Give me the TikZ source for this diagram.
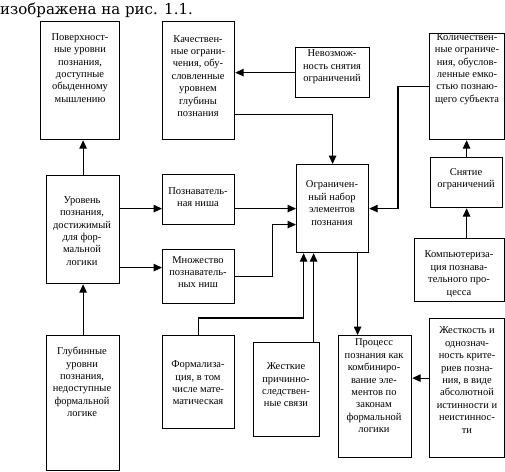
\documentclass[tikz,border=0pt]{standalone}
\usepackage{fontspec}
\setmainfont{Liberation Serif}
\newfontfamily\headfont{DejaVu Serif}
\usetikzlibrary{arrows.meta}

\begin{document}
\begin{tikzpicture}[
  x=1pt,y=-1pt,
  >={Triangle[length=8.5pt,width=7.5pt]},
  box/.style 2 args={
  	draw,
  	line width=1.2pt,
  	anchor=north west,
  	minimum width=#1,
  	minimum height=#2,
  	inner sep=0pt
  },
  txt/.style={
  	font=\fontsize{10.5}{12.4}\selectfont,
  	align=center,
  	inner sep=0pt
  },
  link/.style={
  	->,
  	line width=1.2pt
  }
  ]
  \useasboundingbox (0,0) rectangle (505,471);
  \node[anchor=base west,inner sep=0pt,font=\headfont\fontsize{15}{18}\selectfont] (head) at (0,14) {изображена на рис. 1.1.};

  % boxes
  \node[box={79pt}{118pt}] (pov) at (40,21) {};
  \node[box={72pt}{118pt}] (kach) at (162,21) {};
  \node[box={74pt}{50pt}] (nevoz) at (295,47) {};
  \node[box={74.5pt}{106pt}] (kol) at (429,33) {};
  \node[box={73pt}{108pt}] (urov) at (46,175) {};
  \node[box={72pt}{50pt}] (nisha) at (162,174) {};
  \node[box={72pt}{54pt}] (mnozh) at (162,249) {};
  \node[box={72pt}{88pt}] (ogr) at (296,164) {};
  \node[box={72pt}{50pt}] (snyat) at (430,157) {};
  \node[box={89.5pt}{63pt}] (komp) at (414,238) {};
  \node[box={73pt}{134.5pt}] (glub) at (46,335) {};
  \node[box={72pt}{93pt}] (form) at (162,335) {};
  \node[box={66pt}{94pt}] (zhest) at (253,342) {};
  \node[box={73pt}{122pt}] (proc) at (338,335) {};
  \node[box={74.5pt}{139pt}] (zhestk) at (429,318) {};

  % texts
  \node[txt] (povt) at (80,68) {Поверхност-\\ные уровни\\познания,\\доступные\\обыденному\\мышлению};
  \node[txt] (kacht) at (198,76) {Качествен-\\ные ограни-\\чения, обу-\\словленные\\уровнем\\глубины\\познания};
  \node[txt] (nevozt) at (332,67) {Невозмож-\\ность снятия\\ограничений};
  \node[txt] (kolt) at (467,69) {Количествен-\\ные ограниче-\\ния, обуслов-\\ленные емко-\\стью познаю-\\щего субъекта};
  \node[txt] (urovt) at (82,231) {Уровень\\познания,\\достижимый\\для фор-\\мальной\\логики};
  \node[txt] (nishat) at (198,197) {Познаватель-\\ная ниша};
  \node[txt] (mnozht) at (198,272) {Множество\\познаватель-\\ных ниш};
  \node[txt] (ogrt) at (332,203) {Ограничен-\\ный набор\\элементов\\познания};
  \node[txt] (snyatt) at (466,179) {Снятие\\ограничений};
  \node[txt] (kompt) at (459,274) {Компьютериза-\\ция познава-\\тельного про-\\цесса};
  \node[txt] (glubt) at (82,382) {Глубинные\\уровни\\познания,\\недоступные\\формальной\\логике};
  \node[txt] (formt) at (198,383) {Формализа-\\ция, в том\\числе мате-\\матическая};
  \node[txt] (zhestt) at (286,385) {Жесткие\\причинно-\\следствен-\\ные связи};
  \node[txt] (proct) at (374,386) {Процесс\\познания как\\комбиниро-\\вание эле-\\ментов по\\законам\\формальной\\логики};
  \node[txt] (zhestkt) at (467,380) {Жесткость и\\однознач-\\ность крите-\\риев позна-\\ния, в виде\\абсолютной\\истинности и\\неистиннос-\\ти};

  % connectors
  \draw[link] (urov.north) -- (urov.north |- pov.south);
  \draw[link] (glub.north) -- (urov.south);
  \draw[link] ([yshift=-9pt]nisha.west -| urov.east) -- ([yshift=-9pt]nisha.west);
  \draw[link] ([yshift=9pt]mnozh.west -| urov.east) -- ([yshift=9pt]mnozh.west);
  \draw[link] (nevoz.west) -- (nevoz.west -| kach.east);
  \draw[link] ([yshift=-34pt]kach.east) -| (ogr.north);
  \draw[link] (kol.west) -- ++(-31,0) |- (ogr.east);
  \draw[link] (nisha.east |- ogr.west) -- (ogr.west);
  \draw[link] (mnozh.east) -- ++(37,0) |- ([yshift=-16pt]ogr.west);
  \draw[link] (form.north) -- ++(0,-17) -| ([xshift=-29pt]ogr.south);
  \draw[link] ([xshift=27pt]zhest.north) -- ([xshift=27pt]zhest.north |- ogr.south);
  \draw[link] ([xshift=25pt]ogr.south) -- ([xshift=25pt]ogr.south |- proc.north);
  \draw[link] (snyat.north) -- (snyat.north |- kol.south);
  \draw[link] (komp.north -| snyat.south) -- (snyat.south);
  \draw[link] ([yshift=10pt]zhestk.west) -- ([yshift=10pt]zhestk.west -| proc.east);
\end{tikzpicture}
\end{document}
